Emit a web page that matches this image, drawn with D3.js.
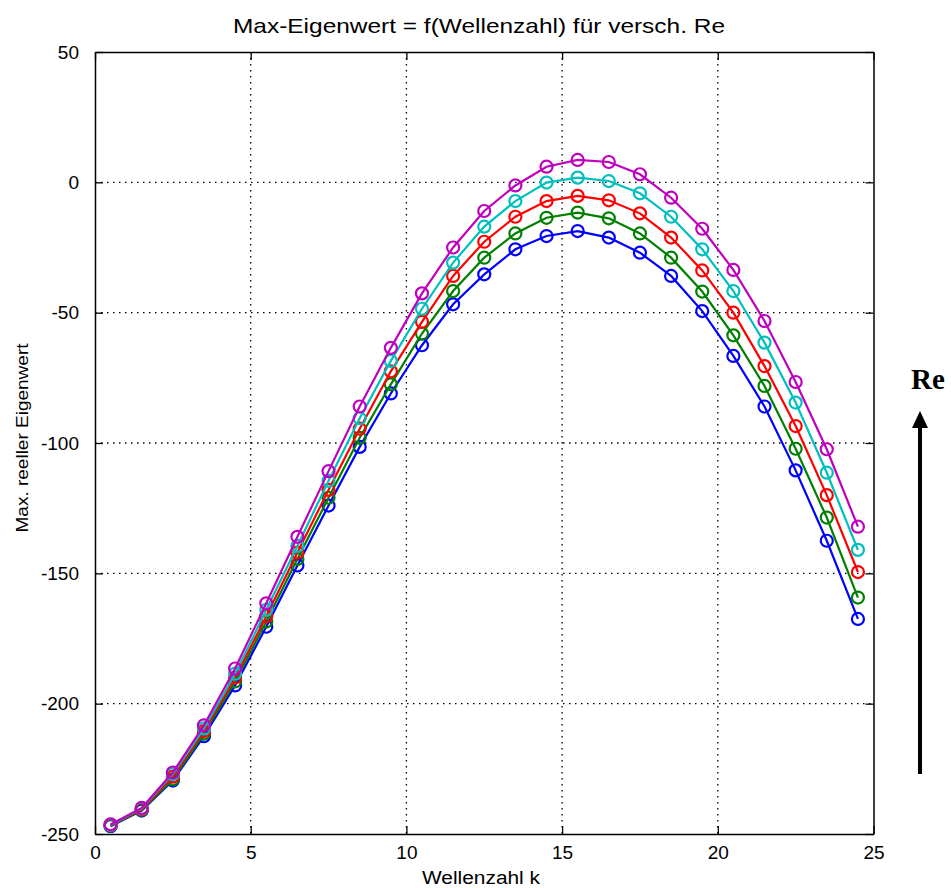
<!DOCTYPE html>
<html>
<head>
<meta charset="utf-8">
<title>Max-Eigenwert</title>
<script src="https://d3js.org/d3.v7.min.js"></script>
<style>
  body { margin: 0; background: #fff; }
  svg text { font-family: "Liberation Sans", Arial, sans-serif; fill: #000; }
</style>
</head>
<body>
<svg id="chart" width="951" height="888"></svg>
<script>
// wave numbers k
const wellenzahl = [0.5, 1.5, 2.5, 3.5, 4.5, 5.5, 6.5, 7.5, 8.5, 9.5, 10.5, 11.5, 12.5,
                    13.5, 14.5, 15.5, 16.5, 17.5, 18.5, 19.5, 20.5, 21.5, 22.5, 23.5, 24.5];

// max. real eigenvalue, one array per Re (lowest Re first)
const reBlue    = [-247, -241, -229.5, -212.5, -193, -170.5, -147, -124, -101.5, -81, -62.5, -46.8, -35.3,
                   -25.7, -20.6, -18.7, -21.2, -27, -35.9, -49.4, -66.6, -86, -110.5, -137.5, -167.5];
const reGreen   = [-246.8, -240.8, -229, -211.5, -191.5, -168.5, -144.5, -121, -98, -77.5, -58, -41.7, -28.9,
                   -19.6, -13.6, -11.6, -13.8, -19.6, -28.9, -41.9, -58.7, -78.1, -102.2, -128.6, -159.3];
const reRed     = [-246.6, -240.5, -228, -210.5, -190, -166.5, -142, -118, -94.5, -72.5, -53.5, -35.9, -22.8,
                   -13.2, -7.2, -5.2, -6.9, -11.9, -21.2, -33.8, -50, -70.5, -93.5, -120, -149.5];
const reCyan    = [-246.5, -240.2, -227, -209.5, -188.5, -164, -139.5, -114.5, -90.5, -68.5, -48.5, -30.8, -17,
                   -7.2, -0.1, 1.8, 0.5, -4.2, -13.2, -25.7, -41.7, -61.5, -84.5, -111.4, -141];
const reMagenta = [-246.3, -240, -226.4, -208.3, -186.5, -161.5, -136, -110.8, -86, -63.5, -42.6, -25, -11,
                   -1.2, 6, 8.6, 7.8, 3.1, -5.9, -17.8, -33.6, -53.2, -76.6, -102.4, -132.1];

const xTicks = [0, 5, 10, 15, 20, 25];
const yTicks = [50, 0, -50, -100, -150, -200, -250];

const seriesList = [
  { values: reBlue,    color: "#0000ff" },
  { values: reGreen,   color: "#008000" },
  { values: reRed,     color: "#ff0000" },
  { values: reCyan,    color: "#00bfbf" },
  { values: reMagenta, color: "#bf00bf" }
];

const svg = d3.select("#chart");
const plotLeft = 95, plotRight = 873.5, plotTop = 52, plotBottom = 834;

const x = d3.scaleLinear().domain([0, 25]).range([plotLeft, plotRight]);
const y = d3.scaleLinear().domain([-250, 50]).range([plotBottom, plotTop]);

// dotted grid
const grid = svg.append("g").attr("stroke", "#000").attr("stroke-width", 1.3)
  .attr("stroke-dasharray", "1.5,4.5");
grid.selectAll("line.gx").data(xTicks.slice(1, -1)).join("line").attr("class", "gx")
  .attr("x1", d => x(d)).attr("x2", d => x(d)).attr("y1", plotTop).attr("y2", plotBottom);
grid.selectAll("line.gy").data(yTicks.slice(1, -1)).join("line").attr("class", "gy")
  .attr("x1", plotLeft).attr("x2", plotRight).attr("y1", d => y(d)).attr("y2", d => y(d));

// axes (MATLAB box: ticks inward on all four sides)
const tick = 8;
const plain = d => String(d);   // plain hyphen for negatives, like MATLAB
svg.append("g").attr("transform", "translate(0," + plotBottom + ")")
  .call(d3.axisBottom(x).tickValues(xTicks).tickFormat(plain).tickSize(-tick).tickPadding(12).tickSizeOuter(0))
  .call(g => g.selectAll("text").attr("font-size", 19));
svg.append("g").attr("transform", "translate(0," + plotTop + ")")
  .call(d3.axisTop(x).tickValues(xTicks).tickSize(-tick).tickFormat("").tickSizeOuter(0));
svg.append("g").attr("transform", "translate(" + plotLeft + ",0)")
  .call(d3.axisLeft(y).tickValues(yTicks).tickFormat(plain).tickSize(-tick).tickPadding(16).tickSizeOuter(0))
  .call(g => g.selectAll("text").attr("font-size", 19));
svg.append("g").attr("transform", "translate(" + plotRight + ",0)")
  .call(d3.axisRight(y).tickValues(yTicks).tickSize(-tick).tickFormat("").tickSizeOuter(0));
svg.selectAll(".domain").attr("stroke", "#000").attr("stroke-width", 1.5);
svg.selectAll(".tick line").attr("stroke", "#000").attr("stroke-width", 1.3);
svg.selectAll(".tick text").attr("font-family", "Liberation Sans, Arial, sans-serif");

// curves
const line = d3.line().x((d, i) => x(wellenzahl[i])).y(d => y(d));
const curves = svg.append("g");
seriesList.forEach(s => {
  const g = curves.append("g");
  g.append("path").datum(s.values)
    .attr("fill", "none").attr("stroke", s.color).attr("stroke-width", 2.2)
    .attr("d", line);
  g.selectAll("circle").data(s.values).join("circle")
    .attr("cx", (d, i) => x(wellenzahl[i])).attr("cy", d => y(d)).attr("r", 6)
    .attr("fill", "none").attr("stroke", s.color).attr("stroke-width", 2.2);
});

// labels
svg.append("text").attr("x", 479).attr("y", 33).attr("text-anchor", "middle")
  .attr("font-size", 21).attr("textLength", 492).attr("lengthAdjust", "spacingAndGlyphs")
  .text("Max-Eigenwert = f(Wellenzahl) für versch. Re");
svg.append("text").attr("x", 481).attr("y", 884).attr("text-anchor", "middle")
  .attr("font-size", 18).attr("textLength", 118).attr("lengthAdjust", "spacingAndGlyphs")
  .text("Wellenzahl k");
svg.append("text").attr("transform", "translate(28,438) rotate(-90)").attr("text-anchor", "middle")
  .attr("font-size", 16.5).attr("textLength", 189).attr("lengthAdjust", "spacingAndGlyphs")
  .text("Max. reeller Eigenwert");

// Re arrow
svg.append("line").attr("x1", 920).attr("x2", 920).attr("y1", 774).attr("y2", 426)
  .attr("stroke", "#000").attr("stroke-width", 4);
svg.append("path").attr("d", "M912,428 L920,411 L928,428 Z").attr("fill", "#000");
svg.append("text").attr("x", 911).attr("y", 389)
  .attr("font-weight", "bold").attr("font-size", 29)
  .style("font-family", "'Liberation Serif', 'Times New Roman', serif")
  .text("Re");
</script>
</body>
</html>
